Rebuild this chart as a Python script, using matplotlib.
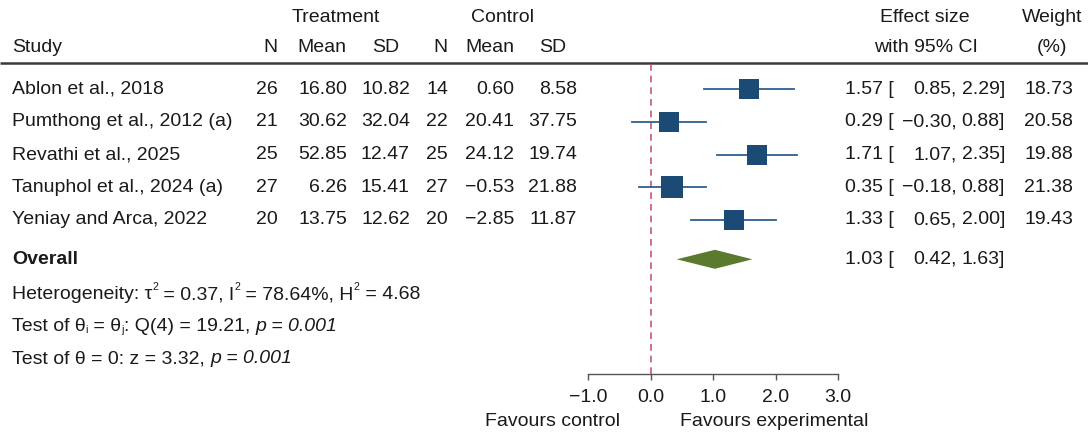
import matplotlib
matplotlib.use("Agg")
import matplotlib.pyplot as plt
import numpy as np

plt.rcParams['font.family'] = ['Liberation Sans', 'DejaVu Sans']

studies = ["Ablon et al., 2018", "Pumthong et al., 2012 (a)", "Revathi et al., 2025",
           "Tanuphol et al., 2024 (a)", "Yeniay and Arca, 2022"]
trt_n = [26, 21, 25, 27, 20]
trt_mean = [16.80, 30.62, 52.85, 6.26, 13.75]
trt_sd = [10.82, 32.04, 12.47, 15.41, 12.62]
ctl_n = [14, 22, 25, 27, 20]
ctl_mean = [0.60, 20.41, 24.12, -0.53, -2.85]
ctl_sd = [8.58, 37.75, 19.74, 21.88, 11.87]
es = [1.57, 0.29, 1.71, 0.35, 1.33]
lo = [0.85, -0.30, 1.07, -0.18, 0.65]
hi = [2.29, 0.88, 2.35, 0.88, 2.00]
weight = [18.73, 20.58, 19.88, 21.38, 19.43]
overall = (1.03, 0.42, 1.63)
xticks = [-1.0, 0.0, 1.0, 2.0, 3.0]

W, H = 1088, 432
fig = plt.figure(figsize=(W / 100, H / 100), dpi=100)
ax = fig.add_axes([0, 0, 1, 1])
ax.set_xlim(0, W)
ax.set_ylim(H, 0)
ax.axis('off')

FS = 14
TC = '#1a1a1a'
ROW0, DY = 89, 32.75
OV_ROW = 5.2


def ry(i):
    return ROW0 + DY * i


def fmt(v):
    s = f"{v:.2f}"
    return s.replace('-', '\u2212')


def txt(x, y, s, **kw):
    kw.setdefault('ha', 'left')
    kw.setdefault('va', 'center')
    kw.setdefault('fontsize', FS)
    return ax.text(x, y, s, color=TC, **kw)


renderer = fig.canvas.get_renderer()


def rich(x, y, pieces):
    # pieces: (string, kind) with kind in 'n', 'i' (italic), 'sup', 'sub'
    for s, kind in pieces:
        kw = dict(va='baseline')
        yy = y
        if kind == 'i':
            kw['fontstyle'] = 'italic'
        elif kind == 'sup':
            kw['fontsize'] = FS * 0.55
            yy = y - 9
        elif kind == 'sub':
            kw['fontsize'] = FS * 0.55
            yy = y + 2
        t = txt(x, yy, s, **kw)
        x = t.get_window_extent(renderer).x1


# headers
txt(336, 18, "Treatment", ha='center')
txt(503, 18, "Control", ha='center')
txt(925, 18, "Effect size", ha='center')
txt(1052, 18, "Weight", ha='center')
txt(12, 47, "Study")
for x, t in [(270, "N"), (322, "Mean"), (386, "SD"), (440, "N"), (490, "Mean"), (553, "SD")]:
    txt(x, 47, t, ha='center')
txt(926, 47, "with 95% CI", ha='center')
txt(1052, 47, "(%)", ha='center')
ax.plot([0, W], [62.5, 62.5], color='#3a3a3a', lw=1.8, solid_capstyle='butt')

# study rows
cols = [(trt_n, 278, 'd'), (trt_mean, 347, 'f'), (trt_sd, 410, 'f'),
        (ctl_n, 448, 'd'), (ctl_mean, 514, 'f'), (ctl_sd, 577, 'f')]
for i, name in enumerate(studies):
    y = ry(i)
    txt(12, y, name)
    for vals, xr, kind in cols:
        s = str(vals[i]) if kind == 'd' else fmt(vals[i])
        txt(xr, y, s, ha='right')
    txt(845, y, fmt(es[i]) + " [")
    txt(957, y, fmt(lo[i]) + ",", ha='right')
    txt(1005, y, fmt(hi[i]) + "]", ha='right')
    txt(1073, y, fmt(weight[i]), ha='right')

yo = ry(OV_ROW)
txt(12, yo, "Overall", fontweight='bold')
txt(845, yo, fmt(overall[0]) + " [")
txt(957, yo, fmt(overall[1]) + ",", ha='right')
txt(1005, yo, fmt(overall[2]) + "]", ha='right')

# footnotes
rich(12, 299, [("Heterogeneity: τ", 'n'), ("2", 'sup'), (" = 0.37, I", 'n'), ("2", 'sup'),
               (" = 78.64%, H", 'n'), ("2", 'sup'), (" = 4.68", 'n')])
rich(12, 331, [("Test of θ", 'n'), ("i", 'sub'), (" = θ", 'n'), ("j", 'sub'),
               (": Q(4) = 19.21, ", 'n'), ("p = 0.001", 'i')])
rich(12, 363, [("Test of θ = 0: z = 3.32, ", 'n'), ("p = 0.001", 'i')])

txt(620, 421, "Favours control", ha='right')
txt(680, 421, "Favours experimental")

# forest axes
top_px, bot_px = 62, 374
left_px, right_px = 588, 838
fax = fig.add_axes([left_px / W, 1 - bot_px / H, (right_px - left_px) / W, (bot_px - top_px) / H])
fax.patch.set_alpha(0)
fax.set_xlim(-1, 3)
fax.set_ylim((bot_px - ROW0) / DY, (top_px - ROW0) / DY)
for s in ['top', 'right', 'left']:
    fax.spines[s].set_visible(False)
fax.spines['bottom'].set_color('#555555')
fax.spines['bottom'].set_linewidth(1.0)
fax.set_yticks([])
fax.set_xticks(xticks)
fax.set_xticklabels([fmt(t)[:-1] for t in xticks])
fax.tick_params(axis='x', direction='out', length=4.5, width=1.0, color='#555555',
                labelsize=FS, labelcolor=TC, pad=6)

fax.plot([0, 0], [(64 - ROW0) / DY, (bot_px - ROW0) / DY], color='#c8557a', lw=1.2,
         dashes=(4, 3), clip_on=False, zorder=1)

for i in range(len(studies)):
    fax.plot([lo[i], hi[i]], [i, i], color='#2f5f8f', lw=1.3, zorder=2, clip_on=False)
    side_px = 4.55 * np.sqrt(weight[i])
    fax.plot([es[i]], [i], marker='s', ms=side_px * 72 / 100, color='#1b4a75',
             mec='#1b4a75', mew=0, zorder=3, clip_on=False)

dh = 9.5 / DY
fax.fill([overall[1], overall[0], overall[2], overall[0]],
         [OV_ROW, OV_ROW - dh, OV_ROW, OV_ROW + dh], color='#5a7a2d', lw=0, zorder=3)

fig.savefig("out.png", dpi=100)
